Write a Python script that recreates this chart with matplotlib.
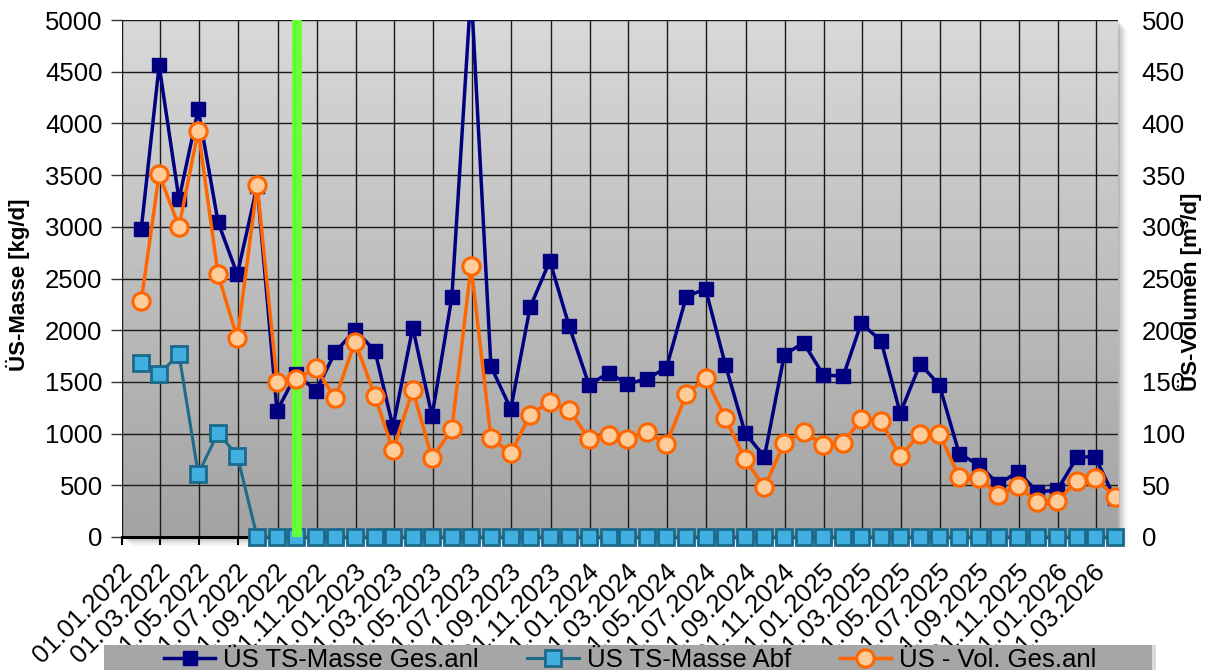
import numpy as np
import pandas as pd
import matplotlib
matplotlib.use("Agg")
import matplotlib.pyplot as plt
import matplotlib.dates as mdates
import matplotlib.transforms as mtrans
from matplotlib.patches import Rectangle
from matplotlib.lines import Line2D
from matplotlib.colors import LinearSegmentedColormap

plt.rcParams['font.family'] = ['Liberation Sans', 'DejaVu Sans']

# ---- data ----
dates = pd.date_range('2022-01-31', periods=51, freq='ME')
ts_masse_ges = [2975, 4560, 3265, 4135, 3045, 2540, 3395, 1220, 1575, 1415, 1790, 2000,
                1800, 1065, 2025, 1170, 2320, 5300, 1650, 1238, 2220, 2670, 2042,
                1472, 1588, 1480, 1532, 1636, 2325, 2400, 1665, 1004, 776, 1762, 1878,
                1568, 1555, 2066, 1898, 1197, 1673, 1472, 807, 696, 511, 631, 437,
                452, 771, 778, 375]
ts_masse_abf = [1680, 1576, 1767, 609, 1009, 786] + [0] * 45
vol_ges = [228, 351, 300, 393, 254, 192, 340, 150, 153, 163, 134, 189, 136, 84, 142,
           76, 104, 262, 96, 81, 118, 131, 123, 95, 99, 95, 102, 90, 138, 154, 115,
           75, 48, 91, 102, 89, 91, 114, 112, 78, 100, 100, 58, 57, 41, 49, 34, 35,
           54, 57, 39]
marker_date = pd.Timestamp('2022-10-01')
labels = ['ÜS TS-Masse Ges.anl', 'ÜS TS-Masse Abf', 'ÜS - Vol. Ges.anl']

W, H = 1213, 670
fig = plt.figure(figsize=(W / 100, H / 100), dpi=100)
L, R, T, B = 122, 1118, 20, 537
ax = fig.add_axes([L / W, 1 - B / H, (R - L) / W, (B - T) / H])

# shadow
for i, a in enumerate([0.10, 0.08, 0.06, 0.04, 0.02]):
    d = (i + 1) * 2
    fig.patches.append(Rectangle(((L + d) / W, 1 - (B + d) / H), (R - L) / W, (B - T) / H,
                                 transform=fig.transFigure, facecolor='black', alpha=a,
                                 edgecolor='none', zorder=-5))

ax.patch.set_visible(False)
grad = np.linspace(0, 1, 256).reshape(-1, 1)
cmap = LinearSegmentedColormap.from_list('g', ['#d9d9d9', '#a3a3a3'])
bg = fig.add_axes(ax.get_position(), zorder=-1)
bg.imshow(grad, aspect='auto', cmap=cmap, extent=[0, 1, 0, 1], origin='upper')
bg.set_axis_off()
ax.set_zorder(1)

ax.plot(dates, ts_masse_abf, color='#1d6a8a', lw=2.2, marker='s', ms=11,
        mfc='#41b0e0', mec='#1b6a8c', mew=2, zorder=3, clip_on=False)
ax.axvline(marker_date, color='#66ff33', lw=7, zorder=3.5, ymin=0, ymax=1)
ax.plot(dates, ts_masse_ges, color='#000080', lw=2.5, marker='s', ms=10.5,
        mfc='#000080', mec='#000080', zorder=4)

ax.set_ylim(0, 5000)
ax.set_yticks(np.arange(0, 5001, 500))
ax.set_xlim(pd.Timestamp('2022-01-01'), pd.Timestamp('2026-04-05'))
ax.xaxis.set_major_locator(mdates.MonthLocator(bymonth=[1, 3, 5, 7, 9, 11]))
ax.xaxis.set_major_formatter(mdates.DateFormatter('%d.%m.%Y'))
ax.grid(True, color='#1a1a1a', lw=1.0, zorder=0)
ax.set_axisbelow(True)
for s in ['top', 'right', 'left']:
    ax.spines[s].set_visible(False)
ax.spines['bottom'].set_linewidth(2.2)
ax.spines['bottom'].set_color('black')
ax.tick_params(axis='y', labelsize=18.5, length=8, width=1, color='#333333', pad=6)
ax.tick_params(axis='x', labelsize=18.5, length=6, width=1.5, pad=4)
offset = mtrans.ScaledTranslation(0.06, -0.17, fig.dpi_scale_trans)
for lab in ax.get_xticklabels():
    lab.set_rotation(45)
    lab.set_ha('right')
    lab.set_va('center')
    lab.set_rotation_mode('anchor')
    lab.set_transform(lab.get_transform() + offset)

ax2 = ax.twinx()
ax2.patch.set_visible(False)
ax2.plot(dates, vol_ges, color='#ff6600', lw=2.5, marker='o', ms=12.5,
         mfc='#ffcc99', mec='#ff6600', mew=2.2, zorder=5)
ax2.set_ylim(0, 500)
ax2.set_yticks(np.arange(0, 501, 50))
for s in ['top', 'right', 'left', 'bottom']:
    ax2.spines[s].set_visible(False)
ax2.tick_params(axis='y', labelsize=18.5, length=0, pad=17)

fig.text(18 / W, 1 - 285 / H, 'ÜS-Masse [kg/d]', rotation=90, ha='center', va='center',
         fontsize=16, fontweight='bold')
fig.text(1190 / W, 1 - 292 / H, 'ÜS-Volumen [m³/d]', rotation=90, ha='center', va='center',
         fontsize=16, fontweight='bold')

# legend box
fig.patches.append(Rectangle((108 / W, 1 - 685 / H), 1048 / W, 40 / H,
                             transform=fig.transFigure, facecolor='black', alpha=0.15,
                             edgecolor='none', zorder=0))
fig.patches.append(Rectangle((104 / W, 1 - 685 / H), 1048 / W, 40 / H,
                             transform=fig.transFigure, facecolor='#a6a6a6',
                             edgecolor='none', zorder=1))
handles = [
    Line2D([], [], color='#000080', lw=2.5, marker='s', ms=10.5, mfc='#000080', mec='#000080'),
    Line2D([], [], color='#1d6a8a', lw=2.2, marker='s', ms=11, mfc='#41b0e0', mec='#1b6a8c', mew=2),
    Line2D([], [], color='#ff6600', lw=2.5, marker='o', ms=12.5, mfc='#ffcc99', mec='#ff6600', mew=2.2),
]
leg = fig.legend(handles, labels, loc='center', bbox_to_anchor=(630 / W, 1 - 660 / H),
                 ncol=3, frameon=False, fontsize=18.5, handlelength=2.0,
                 handletextpad=0.3, columnspacing=1.9, borderpad=0)
leg.set_zorder(2)

fig.savefig('out.png', dpi=100)
